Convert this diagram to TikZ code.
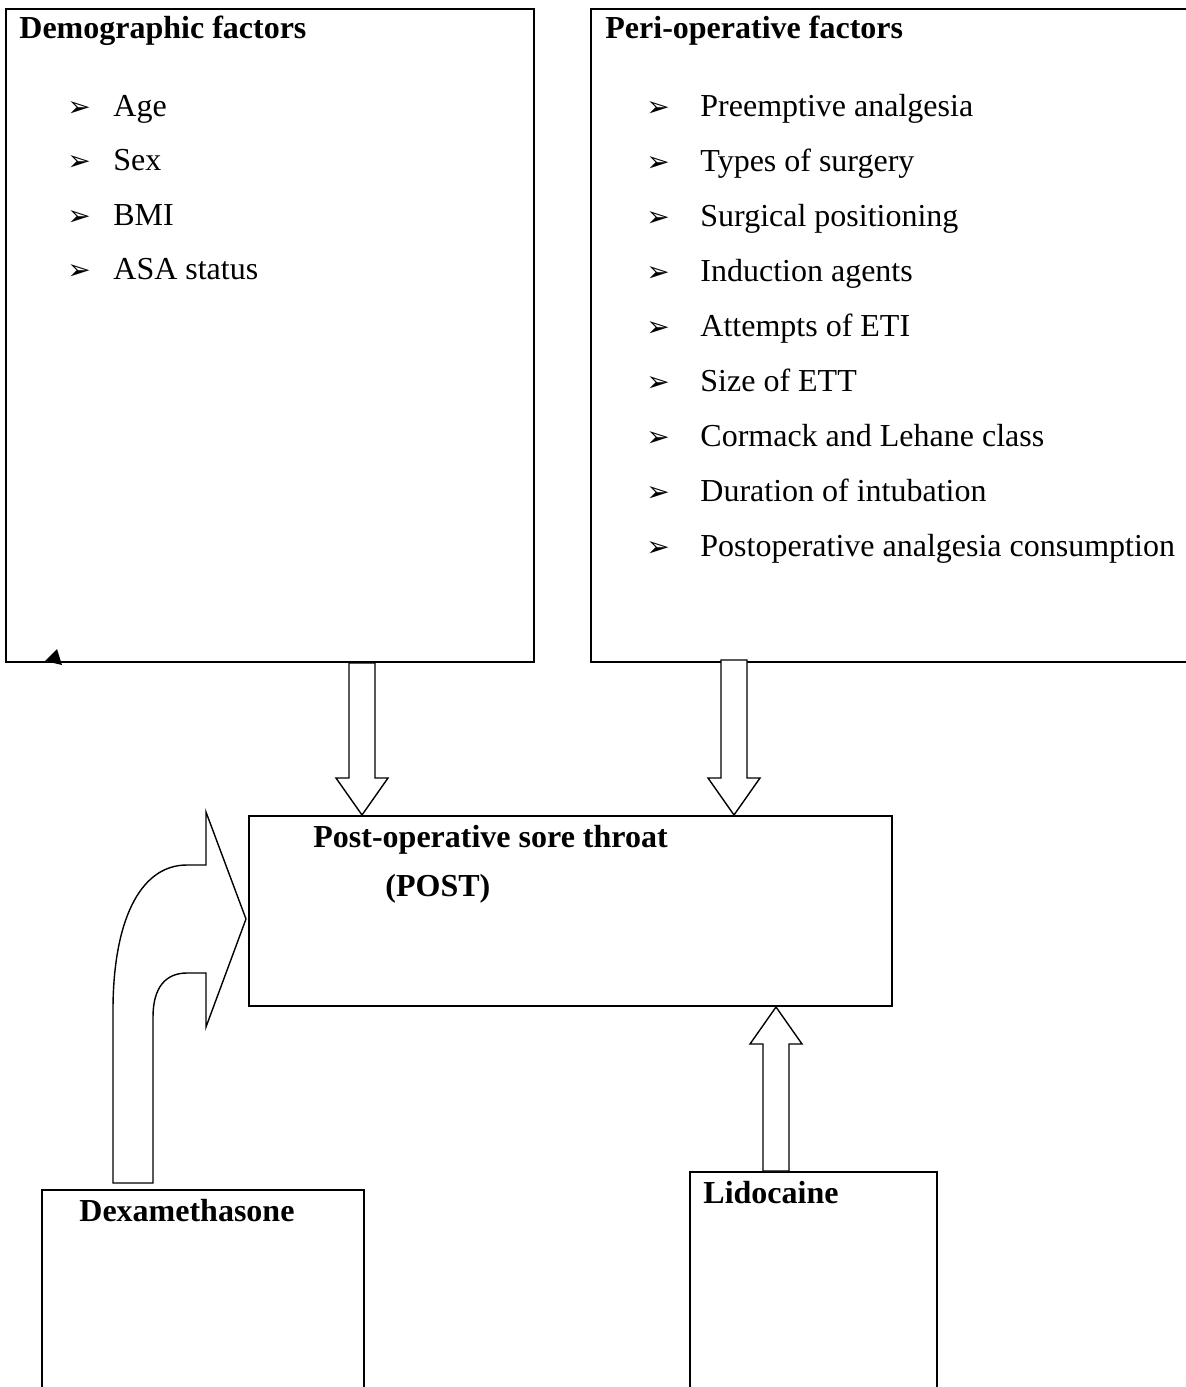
\documentclass[tikz,border=0pt]{standalone}
\usepackage{fontspec}
\setmainfont{Liberation Serif}
\newfontfamily\dingfont{DejaVu Sans}
\usetikzlibrary{calc}

\tikzset{
  box/.style={draw, line width=1pt, anchor=north west, inner sep=0pt},
  head/.style={anchor=base west, inner sep=0pt, font=\fontsize{16}{19}\selectfont\bfseries},
  item/.style={anchor=base west, inner sep=0pt, font=\fontsize{16}{19}\selectfont},
  bullet/.style={anchor=base west, inner sep=0pt, font=\dingfont\fontsize{14}{16}\selectfont},
  blockarrow/.style={draw, line width=0.7pt, fill=white, line join=miter},
}
% block arrow: start, tip, side of the head (-1 above tip, 1 below tip)
\newcommand{\blockarrow}[3]{%
  \draw[blockarrow] ($(#1)+(-13,0)$) -- ($(#2)+(-13,{#3*37})$) -- ($(#2)+(-26,{#3*37})$) -- (#2)
    -- ($(#2)+(26,{#3*37})$) -- ($(#2)+(13,{#3*37})$) -- ($(#1)+(13,0)$) -- cycle;}

\begin{document}
\begin{tikzpicture}[x=0.5pt, y=-0.5pt]
	\useasboundingbox (0,0) rectangle (1186,1387);
	\clip (0,0) rectangle (1186,1387);
	% boxes
	\node[box, minimum width=264pt, minimum height=326.5pt] (demo) at (5,8) {};
	\node[box, minimum width=303pt, minimum height=326.5pt] (peri) at (590,8) {};
	\node[box, minimum width=321.5pt, minimum height=95pt] (post) at (248,815) {};
	\node[box, minimum width=161pt, minimum height=120pt] (dexa) at (41,1189) {};
	\node[box, minimum width=123.5pt, minimum height=120pt] (lido) at (689,1171) {};
	% texts
	\node[head] (demohead) at (19,38) {Demographic factors};
	\foreach \txt [count=\i from 0] in {Age, Sex, BMI, ASA status} {
		\node[bullet] (db\i) at (67,{116+54.5*\i}) {➢};
		\node[item] (d\i) at (113,{116+54.5*\i}) {\txt};
	}
	\node[head] (perihead) at (605,38) {Peri-operative factors};
	\foreach \txt [count=\i from 0] in {Preemptive analgesia, Types of surgery, Surgical positioning, Induction agents, Attempts of ETI, Size of ETT, Cormack and Lehane class, Duration of intubation, Postoperative analgesia consumption} {
		\node[bullet] (pb\i) at (646,{116+55*\i}) {➢};
		\node[item] (p\i) at (700,{116+55*\i}) {\txt};
	}
	\node[head] (posthead) at (313,847) {Post-operative sore throat};
	\node[head] (postabbr) at (385,896) {(POST)};
	\node[head] (dexahead) at (79,1221) {Dexamethasone};
	\node[head] (lidohead) at (703,1203) {Lidocaine};
	% arrows
	\coordinate (a1s) at ($(demo.south west)+(357,0)$);
	\coordinate (a1t) at (a1s |- post.north);
	\blockarrow{a1s}{a1t}{-1}
	\coordinate (a2s) at ($(peri.south west)+(144,-3)$);
	\coordinate (a2t) at (a2s |- post.north);
	\blockarrow{a2s}{a2t}{-1}
	\coordinate (a3s) at ($(lido.north west)+(87,0)$);
	\coordinate (a3t) at (a3s |- post.south);
	\blockarrow{a3s}{a3t}{1}
	\coordinate (dexs) at ($(dexa.north west)+(92,-6)$);
	\draw[blockarrow] ($(dexs)+(-20,0)$) -- (113,1010) .. controls (113,925) and (138,865) .. (187,865)
		-- (206,865) -- (206,812) -- (246,919) -- (206,1027) -- (206,973) -- (187,973)
		.. controls (166,973) and (153,987) .. (153,1017) -- ($(dexs)+(20,0)$) -- cycle;
	% stray tip
	\fill (45,661) -- (57,649) -- (62,665) -- cycle;
\end{tikzpicture}
\end{document}
